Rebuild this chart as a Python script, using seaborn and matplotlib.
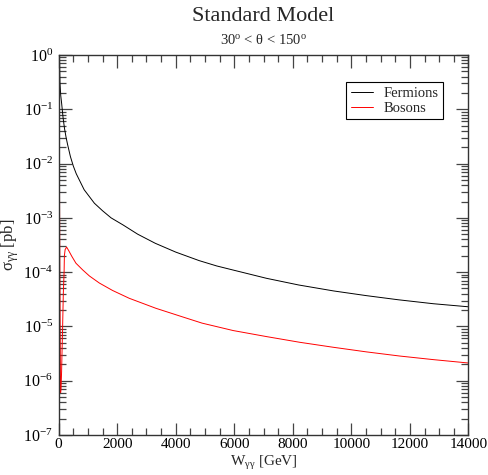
import numpy as np
import pandas as pd
import matplotlib
matplotlib.use("Agg")
import matplotlib.pyplot as plt
from matplotlib.ticker import LogLocator, LogFormatterMathtext, MultipleLocator, NullFormatter
import seaborn as sns

# Cross sections sigma_{gamma gamma} [pb] versus W_{gamma gamma} [GeV]
w_fermions = [25, 45, 70, 100, 150, 200, 250, 300, 400, 500, 600, 870, 1220,
              1500, 1790, 2200, 2700, 3300, 4000, 4800, 5400, 6000, 7100,
              8200, 9400, 10500, 11600, 12800, 14000]
sigma_fermions = [1.0, 0.3, 0.18, 0.13, 0.07, 0.044, 0.031, 0.023, 0.0135,
                  0.009, 0.0065, 0.0033, 0.00186, 0.00135, 0.001, 7.4e-4,
                  5.0e-4, 3.4e-4, 2.34e-4, 1.63e-4, 1.3e-4, 1.08e-4, 7.7e-5,
                  5.8e-5, 4.5e-5, 3.7e-5, 3.1e-5, 2.62e-5, 2.3e-5]

w_bosons = [10, 25, 40, 55, 65, 80, 100, 115, 135, 158, 185, 195, 220, 270,
            350, 450, 590, 820, 1050, 1390, 1840, 2410, 3320, 4230, 4900,
            5960, 7100, 8240, 9370, 10510, 11650, 12790, 14000]
sigma_bosons = [1.5, 1e-2, 1e-4, 3e-6, 6e-7, 7e-7, 1.5e-6, 3.5e-6, 1e-5,
                4e-5, 1.0e-4, 2.0e-4, 2.6e-4, 2.9e-4, 2.45e-4, 1.95e-4,
                1.46e-4, 1.1e-4, 8.5e-5, 6.3e-5, 4.6e-5, 3.3e-5, 2.16e-5,
                1.5e-5, 1.15e-5, 8.4e-6, 6.5e-6, 5.1e-6, 4.14e-6, 3.4e-6,
                2.85e-6, 2.45e-6, 2.12e-6]

x_major = [0, 2000, 4000, 6000, 8000, 10000, 12000, 14000]

sns.set_theme(style="ticks")
plt.rcParams.update({
    "font.family": ["Liberation Serif", "DejaVu Serif"],
    "mathtext.fontset": "custom",
    "mathtext.rm": "Liberation Serif",
    "mathtext.it": "Liberation Serif:italic",
    "mathtext.bf": "Liberation Serif:bold",
    "axes.edgecolor": "#333333",
    "axes.linewidth": 1.0,
})

fermions = pd.DataFrame({"W": w_fermions, "sigma": sigma_fermions})
bosons = pd.DataFrame({"W": w_bosons, "sigma": sigma_bosons})

fig = plt.figure(figsize=(4.89, 4.75), dpi=100)
ax = fig.add_axes([0.120, 0.0842, 0.838, 0.800])

sns.lineplot(data=fermions, x="W", y="sigma", ax=ax, color="black",
             linewidth=0.7, label="Fermions")
sns.lineplot(data=bosons, x="W", y="sigma", ax=ax, color="red",
             linewidth=0.7, label="Bosons")

ax.set_yscale("log")
ax.set_xlim(0, 14000)
ax.set_ylim(1e-7, 1)

ax.set_xticks(x_major)
ax.set_xticklabels([str(v) for v in x_major])
ax.xaxis.set_minor_locator(MultipleLocator(500))
ax.yaxis.set_major_locator(LogLocator(base=10, numticks=10))
ax.yaxis.set_major_formatter(LogFormatterMathtext())
ax.yaxis.set_minor_locator(LogLocator(base=10, subs=np.arange(2, 10), numticks=20))
ax.yaxis.set_minor_formatter(NullFormatter())
ax.xaxis.get_offset_text().set_visible(False)
ax.yaxis.get_offset_text().set_visible(False)

ax.tick_params(which="both", direction="in", top=True, right=True,
               colors="#444444", labelcolor="black", width=0.9)
ax.tick_params(which="major", length=9)
ax.tick_params(which="minor", length=5)
ax.tick_params(axis="x", which="major", pad=2, labelsize=11)
ax.tick_params(axis="y", which="major", pad=4, labelsize=11.5)

ax.set_xlabel("W$_{\\rm γγ}$ [GeV]", fontsize=11)
ax.set_ylabel("σ$_{\\rm γγ}$ [pb]", fontsize=12)
ax.xaxis.set_label_coords(0.5, -0.051)
ax.yaxis.set_label_coords(-0.092, 0.5)

ax.text(0.5, 1.0 + 39 / 380, "Standard Model", transform=ax.transAxes,
        ha="center", va="center", fontsize=16)
ax.text(0.5, 1.0 + 15 / 380, "30$^{\\rm o}$ < θ < 150$^{\\rm o}$",
        transform=ax.transAxes, ha="center", va="center", fontsize=10.5)

leg = ax.legend(loc="upper right", bbox_to_anchor=(0.9375, 0.928),
                fontsize=10.5, frameon=True, fancybox=False, shadow=False,
                handlelength=1.5, borderpad=0.3, labelspacing=0.12,
                handletextpad=0.75, borderaxespad=0)
leg.get_frame().set_edgecolor("black")
leg.get_frame().set_linewidth(0.8)
leg.get_frame().set_alpha(1)

fig.savefig("out.png", dpi=100)
